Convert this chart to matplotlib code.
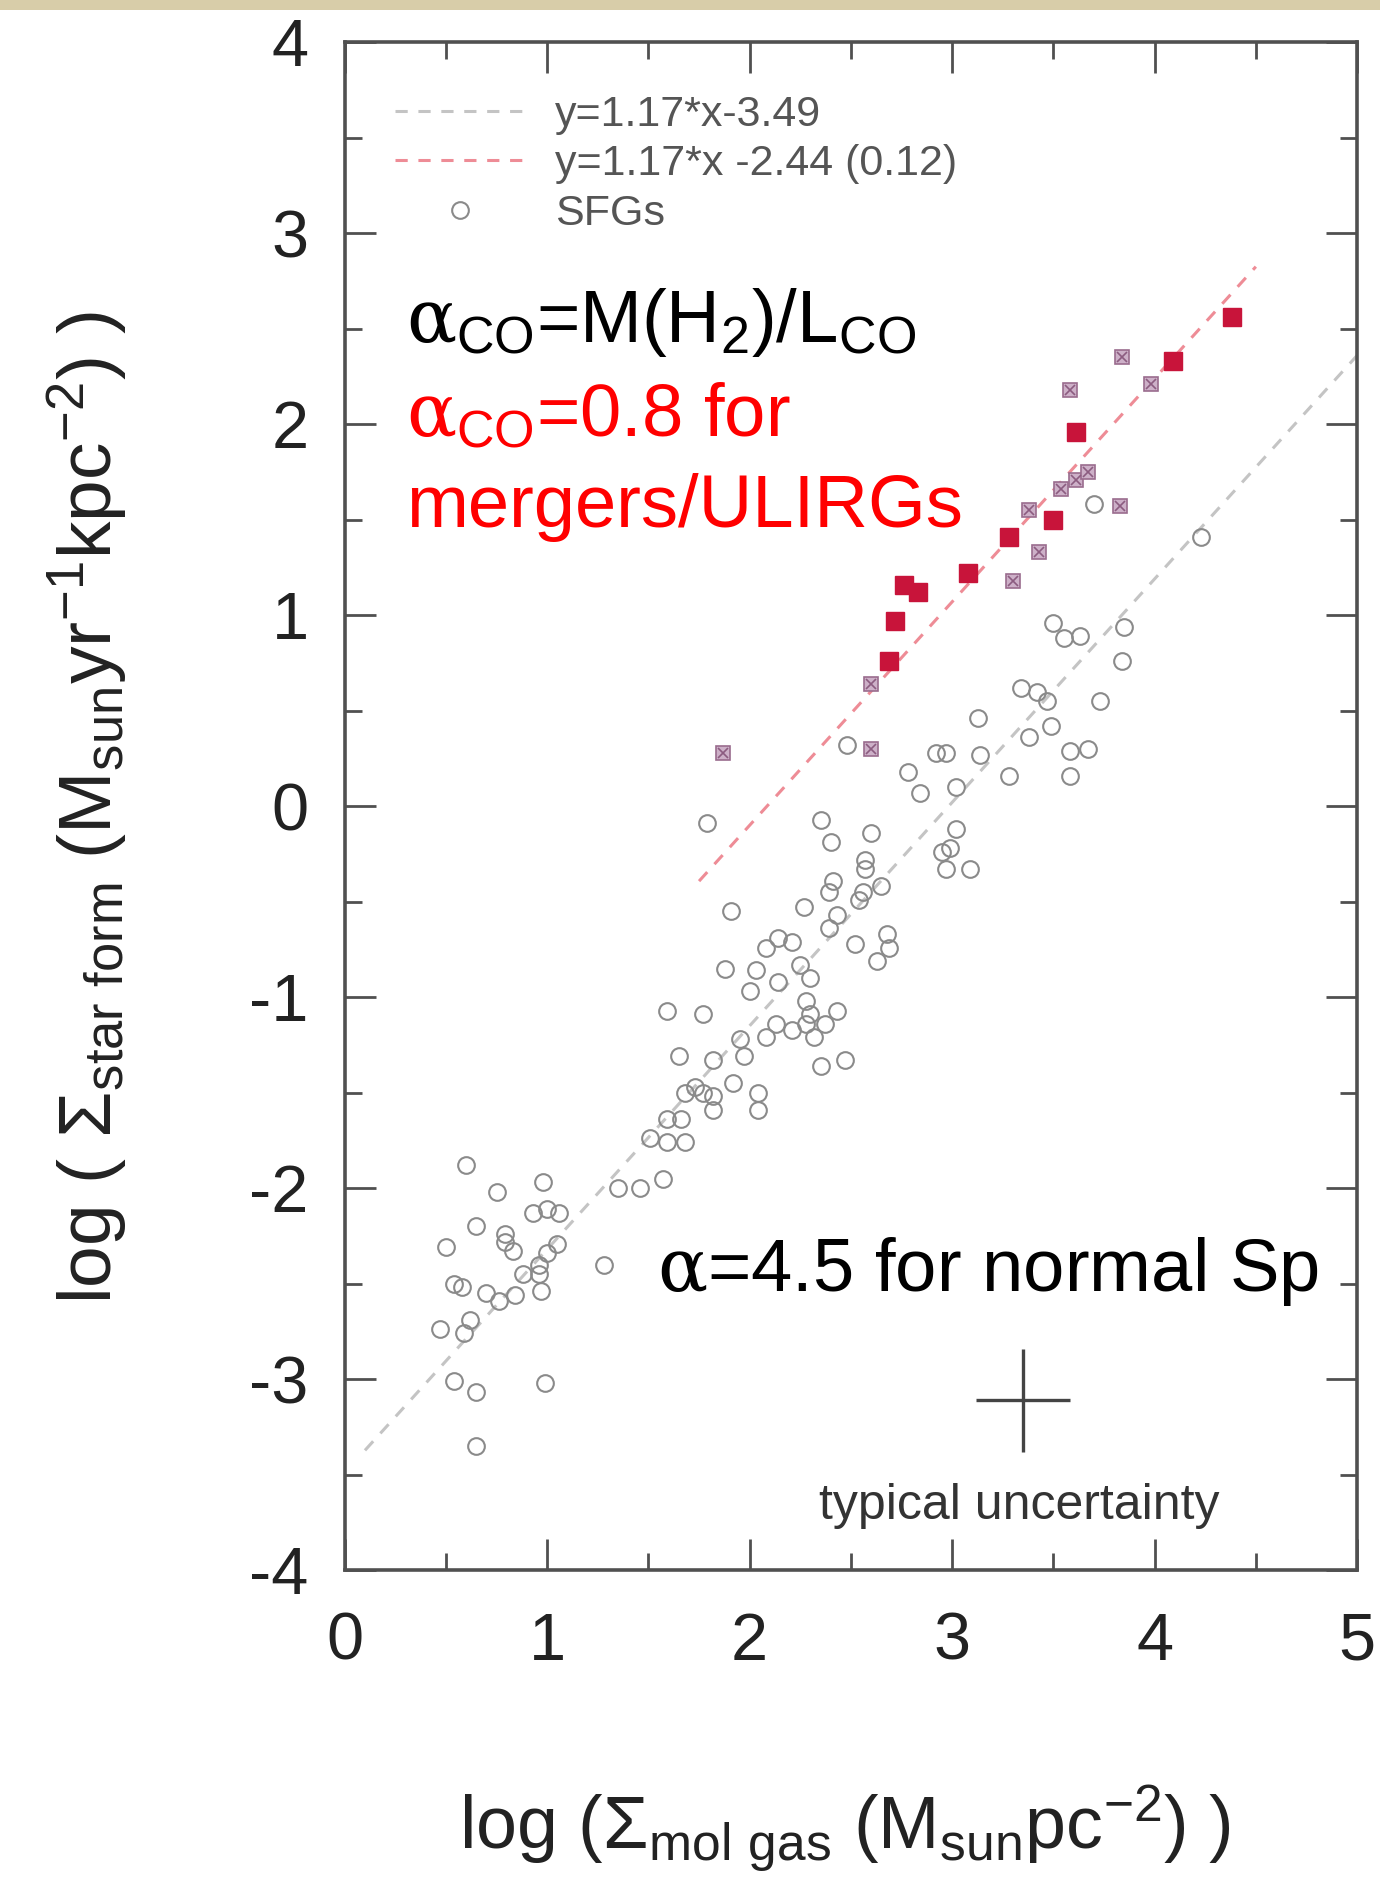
#---------------------------------------------------------------------- Packages used ----------------------------------------------------------------------#
import numpy as np
import matplotlib
matplotlib.use('Agg')
import matplotlib.pyplot as plt
from matplotlib import font_manager
from matplotlib.patches import Rectangle
#-----------------------------------------------------------------------------------------------------------------------------------------------------------#

# star forming galaxies (open gray circles)
sfg_x = [4.23, 3.70, 3.50, 3.55, 3.63, 3.85, 3.84, 3.34, 3.42, 3.47, 3.73, 3.13, 3.38, 3.49, 3.58, 3.67,
         3.58, 3.28, 2.92, 2.97, 3.14, 2.78, 2.84, 3.02, 2.48, 1.79, 2.35, 2.40, 2.60, 2.57, 2.57, 3.02,
         2.95, 2.99, 2.97, 3.09, 2.41, 2.39, 2.56, 2.65, 2.54, 2.43, 2.27, 1.91, 2.39, 2.52, 2.68, 2.69,
         2.63, 2.14, 2.21, 2.08, 2.25, 2.30, 2.14, 1.88, 2.03, 2.00, 2.28, 2.30, 2.43, 2.13, 2.08, 2.21,
         2.28, 2.37, 2.32, 1.95, 1.59, 1.77, 1.65, 1.82, 1.97, 2.35, 2.47, 1.92, 1.73, 1.77, 1.68, 1.82,
         2.04, 2.04, 1.82, 1.59, 1.66, 1.51, 1.59, 1.68, 1.57, 1.35, 1.46, 0.60, 0.98, 0.75, 0.93, 1.00,
         1.06, 0.65, 0.79, 0.79, 0.83, 1.05, 0.50, 1.00, 0.96, 0.88, 0.96, 0.54, 0.58, 0.70, 0.76, 0.84,
         0.97, 1.28, 0.62, 0.47, 0.59, 0.54, 0.65, 0.99, 0.65]
sfg_y = [1.41, 1.58, 0.96, 0.88, 0.89, 0.94, 0.76, 0.62, 0.60, 0.55, 0.55, 0.46, 0.36, 0.42, 0.29, 0.30,
         0.16, 0.16, 0.28, 0.28, 0.27, 0.18, 0.07, 0.10, 0.32, -0.09, -0.07, -0.19, -0.14, -0.28, -0.33, -0.12,
         -0.24, -0.22, -0.33, -0.33, -0.39, -0.45, -0.45, -0.42, -0.49, -0.57, -0.53, -0.55, -0.64, -0.72, -0.67, -0.74,
         -0.81, -0.69, -0.71, -0.74, -0.83, -0.90, -0.92, -0.85, -0.86, -0.97, -1.02, -1.09, -1.07, -1.14, -1.21, -1.17,
         -1.14, -1.14, -1.21, -1.22, -1.07, -1.09, -1.31, -1.33, -1.31, -1.36, -1.33, -1.45, -1.47, -1.50, -1.50, -1.52,
         -1.50, -1.59, -1.59, -1.64, -1.64, -1.74, -1.76, -1.76, -1.95, -2.00, -2.00, -1.88, -1.97, -2.02, -2.13, -2.11,
         -2.13, -2.20, -2.24, -2.28, -2.33, -2.29, -2.31, -2.34, -2.40, -2.45, -2.45, -2.50, -2.52, -2.55, -2.59, -2.56,
         -2.54, -2.40, -2.69, -2.74, -2.76, -3.01, -3.07, -3.02, -3.35]

# mergers / ULIRGs (filled red squares)
ulirg_x = [2.69, 2.72, 2.76, 2.83, 3.08, 3.28, 3.50, 3.61, 4.09, 4.38]
ulirg_y = [0.76, 0.97, 1.16, 1.12, 1.22, 1.41, 1.50, 1.96, 2.33, 2.56]

# other starbursts (crossed mauve squares)
sb_x = [1.87, 2.60, 2.60, 3.30, 3.43, 3.38, 3.54, 3.61, 3.67, 3.83, 3.58, 3.84, 3.98]
sb_y = [0.28, 0.30, 0.64, 1.18, 1.33, 1.55, 1.66, 1.71, 1.75, 1.57, 2.18, 2.35, 2.21]

# fitted relations y = slope*x + offset
fit_slope = 1.17
fit_offsets = [-3.49, -2.44]
fit_ranges = [[0.1, 5.0], [1.75, 4.5]]
fit_labels = ['y=1.17*x-3.49', 'y=1.17*x -2.44 (0.12)']
fit_colors = ['#c4c4c4', '#ee8c96']

# typical uncertainty cross
err_x, err_y = 3.35, -3.11
err_dx, err_dy = 0.23, 0.27

x_ticks = [0, 1, 2, 3, 4, 5]
y_ticks = [-4, -3, -2, -1, 0, 1, 2, 3, 4]

#-----------------------------------------------------------------------------------------------------------------------------------------------------------#
# fonts: narrow sans for the original plot if there is one, Arial-like for the slide annotations

names = set(f.name for f in font_manager.fontManager.ttflist)
narrow = 'Liberation Sans Narrow' if 'Liberation Sans Narrow' in names else 'Liberation Sans'

plt.rcParams['font.family'] = ['Liberation Sans', 'DejaVu Sans']
plt.rcParams['axes.unicode_minus'] = False
plt.rcParams['mathtext.fontset'] = 'custom'
plt.rcParams['mathtext.rm'] = 'Liberation Sans'
plt.rcParams['mathtext.it'] = 'DejaVu Serif'
plt.rcParams['mathtext.sf'] = narrow

frame_col = '#505050'
note_size = 53.5

fig = plt.figure(figsize=(13.8, 18.96), dpi=100)
fig.patches.append(Rectangle((0, 1 - 10 / 1896), 1, 10 / 1896, transform=fig.transFigure,
                             facecolor='#d8cda9', edgecolor='none'))
ax = fig.add_axes([0.2498, 0.1719, 0.7336, 0.8058])

# fitted lines
for off, rng, lab, col in zip(fit_offsets, fit_ranges, fit_labels, fit_colors):
    xs = np.array(rng)
    ax.plot(xs, fit_slope * xs + off, ls=(0, (4, 3.5)), lw=2.2, color=col, label=lab, zorder=2)

ax.plot(sfg_x, sfg_y, 'o', ms=12, mfc='none', mec='#8a8a8a', mew=1.5, label='SFGs', zorder=3)
ax.plot(sb_x, sb_y, 's', ms=10.5, mfc='#cdb0c8', mec='#9a6c8e', mew=1.2, zorder=4)
ax.plot(sb_x, sb_y, 'x', ms=7.5, mec='#8c5c80', mew=1.2, zorder=4)
ax.plot(ulirg_x, ulirg_y, 's', ms=12.5, mfc='#c8143a', mec='#c8143a', zorder=5)

ax.errorbar([err_x], [err_y], xerr=[err_dx], yerr=[err_dy], fmt='none', ecolor='#444444',
            elinewidth=2.4, capsize=0, zorder=5)
ax.text(err_x - 0.02, -3.73, 'typical uncertainty', ha='center', va='baseline', fontsize=36,
        family=narrow, color='#333333')

# slide annotations
ax.text(0.305, 2.43, r'$\alpha_{\rm CO}$=M(H$_{\rm 2}$)/L$_{\rm CO}$', fontsize=note_size, color='black', va='baseline')
ax.text(0.305, 1.94, r'$\alpha_{\rm CO}$=0.8 for', fontsize=note_size, color='#ff0000', va='baseline')
ax.text(0.305, 1.46, 'mergers/ULIRGs', fontsize=note_size, color='#ff0000', va='baseline')
ax.text(1.54, -2.54, r'$\alpha$=4.5 for normal Sp', fontsize=note_size, color='black', va='baseline')

leg = ax.legend(loc='upper left', bbox_to_anchor=(0.033, 0.977), frameon=False,
                handlelength=3.0, handletextpad=0.7, labelspacing=0.22, borderaxespad=0,
                prop={'family': narrow, 'size': 31})
for t in leg.get_texts():
    t.set_color('#555555')

# axes styling
ax.set_xlim(0, 5)
ax.set_ylim(-4, 4)
ax.set_xticks(x_ticks)
ax.set_yticks(y_ticks)
ax.set_xticks(np.arange(0.5, 5, 1.0), minor=True)
ax.set_yticks(np.arange(-3.5, 4, 1.0), minor=True)
ax.tick_params(which='both', direction='in', top=True, right=True, color=frame_col, width=2.0)
ax.tick_params(which='major', length=22, labelsize=48, labelcolor='#222222')
ax.tick_params(which='minor', length=12)
ax.tick_params(axis='x', which='major', pad=30)
ax.tick_params(axis='y', which='major', pad=26)
for s in ax.spines.values():
    s.set_color(frame_col)
    s.set_linewidth(2.6)

fig.text(0.081, 0.574, r'log ( $\mathsf{\Sigma_{star\ form}}$ (M$_{\mathsf{sun}}$yr$^{\mathsf{-1}}$kpc$^{\mathsf{-2}}$) )',
         rotation=90, rotation_mode='anchor', ha='center', va='baseline', fontsize=54, family=narrow,
         color='#222222')
fig.text(0.612, 0.024, r'log ($\mathsf{\Sigma_{mol\ gas}}$ (M$_{\mathsf{sun}}$pc$^{\mathsf{-2}}$) )',
         ha='center', va='baseline', fontsize=53, family=narrow, color='#222222')

fig.savefig('out.png', dpi=100, facecolor='white')
